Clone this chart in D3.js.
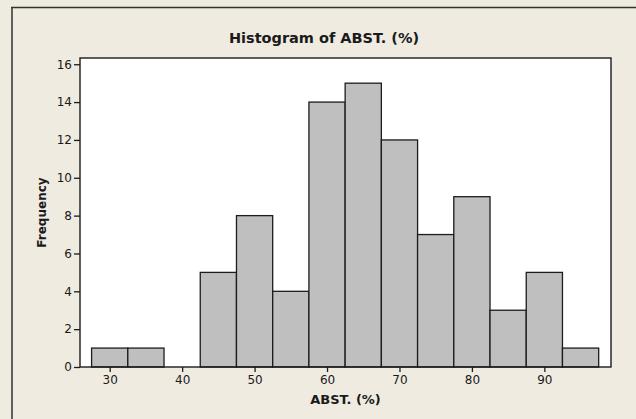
<!DOCTYPE html>
<html>
<head>
<meta charset="utf-8">
<script src="https://cdn.jsdelivr.net/npm/d3@7.9.0/dist/d3.min.js"></script>
<style>
  html, body { margin: 0; padding: 0; background: #efebe1; }
  svg { display: block; font-family: "DejaVu Sans", Verdana, sans-serif; }
</style>
</head>
<body>
<svg width="636" height="419"></svg>
<script>
// histogram bins (midpoints) and their counts
const binMids = [30, 35, 40, 45, 50, 55, 60, 65, 70, 75, 80, 85, 90, 95];
const counts = [1, 1, 0, 5, 8, 4, 14, 15, 12, 7, 9, 3, 5, 1];
const binWidth = 5;
const xTicks = [30, 40, 50, 60, 70, 80, 90];
const yTicks = [0, 2, 4, 6, 8, 10, 12, 14, 16];

const svg = d3.select('svg');

// graph window edge (top + left lines only)
svg.append('path')
    .attr('d', 'M11,7.5H636M12,7V419')
    .attr('stroke', '#333')
    .attr('stroke-width', 1.5)
    .attr('fill', 'none');

const plotL = 80, plotR = 611, plotT = 58, plotB = 367;

const x = d3.scaleLinear().domain([25.9, 99.2]).range([plotL, plotR]);
const y = d3.scaleLinear().domain([0, 16.33]).range([plotB, plotT]);

// plot area
svg.append('rect')
    .attr('x', plotL).attr('y', plotT)
    .attr('width', plotR - plotL).attr('height', plotB - plotT)
    .attr('fill', '#fff');

// bars
svg.append('g')
  .selectAll('rect')
  .data(binMids.map((m, i) => ({ mid: m, n: counts[i] })))
  .join('rect')
    .attr('x', d => x(d.mid - binWidth / 2))
    .attr('y', d => y(d.n))
    .attr('width', d => x(d.mid + binWidth / 2) - x(d.mid - binWidth / 2))
    .attr('height', d => y(0) - y(d.n))
    .attr('fill', '#bfbfbf')
    .attr('stroke', '#1c1c1c')
    .attr('stroke-width', 1.3);

// frame
svg.append('rect')
    .attr('x', plotL).attr('y', plotT)
    .attr('width', plotR - plotL).attr('height', plotB - plotT)
    .attr('fill', 'none')
    .attr('stroke', '#1c1c1c')
    .attr('stroke-width', 1.4);

// axes
const yAxis = svg.append('g')
    .attr('transform', `translate(${plotL},0)`)
    .call(d3.axisLeft(y).tickValues(yTicks).tickSize(6).tickPadding(2));
const xAxis = svg.append('g')
    .attr('transform', `translate(0,${plotB})`)
    .call(d3.axisBottom(x).tickValues(xTicks).tickSize(5).tickPadding(3));

[yAxis, xAxis].forEach(a => {
  a.select('.domain').remove();
  a.selectAll('line').attr('stroke', '#1c1c1c').attr('stroke-width', 1.3);
  a.selectAll('text')
      .attr('fill', '#1a1a1a')
      .style('font-size', '12px')
      .style('font-family', '"DejaVu Sans", Verdana, sans-serif');
});

// titles
svg.append('text')
    .attr('x', 324).attr('y', 43)
    .attr('text-anchor', 'middle')
    .attr('font-size', '14.5px')
    .attr('font-weight', 'bold')
    .attr('fill', '#1a1a1a')
    .text('Histogram of ABST. (%)');

svg.append('text')
    .attr('x', (plotL + plotR) / 2).attr('y', 404)
    .attr('text-anchor', 'middle')
    .attr('font-size', '13px')
    .attr('font-weight', 'bold')
    .attr('fill', '#1a1a1a')
    .text('ABST. (%)');

svg.append('text')
    .attr('transform', `translate(46,${(plotT + plotB) / 2}) rotate(-90)`)
    .attr('text-anchor', 'middle')
    .attr('font-size', '12px')
    .attr('font-weight', 'bold')
    .attr('fill', '#1a1a1a')
    .text('Frequency');
</script>
</body>
</html>
